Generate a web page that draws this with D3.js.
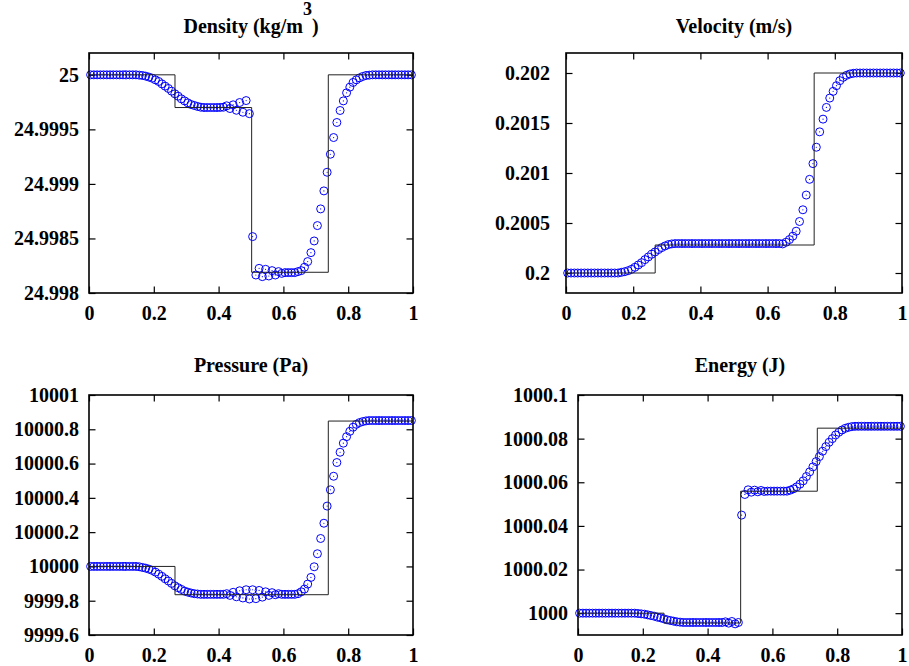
<!DOCTYPE html>
<html><head><meta charset="utf-8">
<script src="https://cdn.jsdelivr.net/npm/d3@7"></script>
<style>
body{margin:0;background:#fff}
svg text{font-family:"Liberation Serif","Times New Roman",serif;font-weight:bold;font-size:20px;fill:#000}
</style>
</head><body>
<svg id="chart" width="909" height="666"></svg>
<script>
// ---- cell-centre positions ----
const xGrid = [0.005,0.015,0.025,0.035,0.045,0.055,0.065,0.075,0.085,0.095,
0.105,0.115,0.125,0.135,0.145,0.155,0.165,0.175,0.185,0.195,
0.205,0.215,0.225,0.235,0.245,0.255,0.265,0.275,0.285,0.295,
0.305,0.315,0.325,0.335,0.345,0.355,0.365,0.375,0.385,0.395,
0.405,0.415,0.425,0.435,0.445,0.455,0.465,0.475,0.485,0.495,
0.505,0.515,0.525,0.535,0.545,0.555,0.565,0.575,0.585,0.595,
0.605,0.615,0.625,0.635,0.645,0.655,0.665,0.675,0.685,0.695,
0.705,0.715,0.725,0.735,0.745,0.755,0.765,0.775,0.785,0.795,
0.805,0.815,0.825,0.835,0.845,0.855,0.865,0.875,0.885,0.895,
0.905,0.915,0.925,0.935,0.945,0.955,0.965,0.975,0.985,0.995];

// ---- numerical solution (circles) ----
const densityValues = [25,25,25,25,25,25,25,25,25,25,
25,25,25,25,25,24.999997,24.999994,24.999988,24.999979,24.999969,
24.999954,24.999939,24.999917,24.999896,24.999875,24.99985,24.999826,24.999804,24.99978,24.999761,
24.999743,24.999728,24.999719,24.99971,24.999703,24.9997,24.9997,24.9997,24.9997,24.9997,
24.999701,24.999703,24.999716,24.999691,24.999725,24.999675,24.999746,24.999657,24.999764,24.999644,
24.998517,24.998165,24.998226,24.99815,24.998217,24.998156,24.998205,24.998165,24.998196,24.99818,
24.998187,24.998187,24.998187,24.998187,24.998196,24.998205,24.998236,24.998288,24.99837,24.998477,
24.998618,24.998771,24.998936,24.999107,24.999272,24.999425,24.999563,24.999673,24.999761,24.999835,
24.999887,24.99993,24.999954,24.999972,24.999985,24.999994,24.999997,25,25,25,
25,25,25,25,25,25,25,25,25,25];

const velocityValues = [0.2,0.2,0.2,0.2,0.2,0.2,0.2,0.2,0.2,0.2,
0.2,0.2,0.2,0.2,0.2,0.2,0.2000067,0.2000134,0.2000234,0.2000368,
0.2000569,0.2000803,0.2001037,0.2001338,0.2001606,0.2001873,0.2002107,0.2002342,0.2002542,0.2002709,
0.2002843,0.200291,0.2002944,0.2002944,0.2002944,0.2002944,0.2002944,0.2002944,0.2002944,0.2002944,
0.2002944,0.2002944,0.2002944,0.2002944,0.2002944,0.2002944,0.2002944,0.2002944,0.2002944,0.2002944,
0.2002944,0.2002944,0.2002944,0.2002944,0.2002944,0.2002944,0.2002944,0.2002944,0.2002944,0.2002944,
0.2002944,0.2002944,0.2002944,0.2002944,0.200291,0.2003077,0.2003345,0.200368,0.2004181,0.2005151,
0.2006322,0.2007794,0.2009366,0.2010938,0.2012577,0.2014116,0.2015387,0.2016558,0.2017494,0.2018163,
0.2018732,0.2019234,0.2019568,0.2019769,0.2019903,0.201997,0.202,0.202,0.202,0.202,
0.202,0.202,0.202,0.202,0.202,0.202,0.202,0.202,0.202,0.202];

const pressureValues = [10000,10000,10000,10000,10000,10000,10000,10000,10000,10000,
10000,10000,10000,10000,10000,9999.998,9999.994,9999.990,9999.984,9999.977,
9999.967,9999.955,9999.942,9999.928,9999.915,9999.901,9999.887,9999.876,9999.866,9999.856,
9999.850,9999.845,9999.841,9999.839,9999.837,9999.837,9999.837,9999.837,9999.837,9999.837,
9999.837,9999.837,9999.841,9999.831,9999.849,9999.823,9999.858,9999.816,9999.864,9999.810,
9999.864,9999.812,9999.860,9999.821,9999.852,9999.831,9999.847,9999.835,9999.841,9999.837,
9999.837,9999.837,9999.837,9999.837,9999.841,9999.852,9999.868,9999.897,9999.936,9999.998,
10000.074,10000.163,10000.252,10000.352,10000.447,10000.526,10000.606,10000.666,10000.719,10000.757,
10000.788,10000.812,10000.829,10000.839,10000.845,10000.849,10000.851,10000.851,10000.851,10000.851,
10000.851,10000.851,10000.851,10000.851,10000.851,10000.851,10000.851,10000.851,10000.851,10000.851];

const energyValues = [1000,1000,1000,1000,1000,1000,1000,1000,1000,1000,
1000,1000,1000,1000,1000,1000,1000,1000,999.99985,999.9997,
999.99954,999.99924,999.99893,999.99863,999.99817,999.99787,999.99741,999.99695,999.99665,999.99634,
999.99604,999.99589,999.99573,999.99573,999.99573,999.99573,999.99573,999.99573,999.99573,999.99573,
999.99573,999.99573,999.99573,999.99573,999.99573,999.99604,999.99543,999.99619,999.99512,999.99573,
1000.04496,1000.05441,1000.05654,1000.05547,1000.05639,1000.05563,1000.05624,1000.05578,1000.05593,1000.05593,
1000.05593,1000.05593,1000.05593,1000.05593,1000.05593,1000.05639,1000.0570,1000.05791,1000.05913,1000.06066,
1000.06264,1000.06477,1000.06706,1000.06949,1000.07178,1000.07422,1000.07635,1000.07833,1000.08001,1000.08169,
1000.08291,1000.08397,1000.08473,1000.08519,1000.0855,1000.08565,1000.08565,1000.08565,1000.08565,1000.08565,
1000.08565,1000.08565,1000.08565,1000.08565,1000.08565,1000.08565,1000.08565,1000.08565,1000.08565,1000.08565];

// ---- exact solution (step line) ----
const densityExactX = [0, 0.2654, 0.502, 0.7386, 1];
const densityExact = [25, 24.9997, 24.99819, 25, 25];
const velocityExactX = [0, 0.2654, 0.7386, 1];
const velocityExact = [0.2, 0.20028, 0.202, 0.202];
const pressureExactX = [0, 0.2654, 0.7386, 1];
const pressureExact = [10000, 9999.835, 10000.848, 10000.848];
const energyExactX = [0, 0.2654, 0.502, 0.7386, 1];
const energyExact = [1000, 999.9955, 1000.0559, 1000.0848, 1000.0848];

// ---- ticks ----
const xTicks = [0, 0.2, 0.4, 0.6, 0.8, 1];
const xTickLabels = ["0", "0.2", "0.4", "0.6", "0.8", "1"];
const densityTicks = [24.998, 24.9985, 24.999, 24.9995, 25];
const densityTickLabels = ["24.998", "24.9985", "24.999", "24.9995", "25"];
const velocityTicks = [0.2, 0.2005, 0.201, 0.2015, 0.202];
const velocityTickLabels = ["0.2", "0.2005", "0.201", "0.2015", "0.202"];
const pressureTicks = [9999.6, 9999.8, 10000, 10000.2, 10000.4, 10000.6, 10000.8, 10001];
const pressureTickLabels = ["9999.6", "9999.8", "10000", "10000.2", "10000.4", "10000.6", "10000.8", "10001"];
const energyTicks = [1000, 1000.02, 1000.04, 1000.06, 1000.08, 1000.1];
const energyTickLabels = ["1000", "1000.02", "1000.04", "1000.06", "1000.08", "1000.1"];

const svg = d3.select("#chart");

function drawPanel(p) {
  const x = d3.scaleLinear().domain([0, 1]).range([p.left, p.right]);
  const y = d3.scaleLinear().domain(p.yDomain).range([p.bottom, p.top]);
  const g = svg.append("g");
  const tick = 6.5;

  const styleAxis = sel => {
    sel.select(".domain").remove();
    sel.selectAll(".tick line").attr("stroke", "#000").attr("stroke-width", 1.2);
    sel.attr("font-family", null).attr("font-size", null);
  };
  g.append("g").attr("transform", `translate(0,${p.bottom})`)
    .call(d3.axisBottom(x).tickValues(xTicks).tickFormat((d, i) => xTickLabels[i])
      .tickSizeInner(-tick).tickSizeOuter(0).tickPadding(13))
    .call(styleAxis);
  g.append("g").attr("transform", `translate(0,${p.top})`)
    .call(d3.axisTop(x).tickValues(xTicks).tickFormat("")
      .tickSizeInner(-tick).tickSizeOuter(0))
    .call(styleAxis);
  g.append("g").attr("transform", `translate(${p.left},0)`)
    .call(d3.axisLeft(y).tickValues(p.yTicks).tickFormat((d, i) => p.yTickLabels[i])
      .tickSizeInner(-tick).tickSizeOuter(0).tickPadding(p.labelPad))
    .call(styleAxis);
  g.append("g").attr("transform", `translate(${p.right},0)`)
    .call(d3.axisRight(y).tickValues(p.yTicks).tickFormat("")
      .tickSizeInner(-tick).tickSizeOuter(0))
    .call(styleAxis);

  // circles
  const pts = g.append("g");
  xGrid.forEach((xv, i) => {
    pts.append("circle").attr("cx", x(xv)).attr("cy", y(p.values[i])).attr("r", 4)
      .attr("fill", "none").attr("stroke", "#0000ff").attr("stroke-width", 1);
    pts.append("circle").attr("cx", x(xv)).attr("cy", y(p.values[i])).attr("r", 0.6)
      .attr("fill", "#0000ff");
  });

  // exact step line
  const line = d3.line().x(d => x(d[0])).y(d => y(d[1])).curve(d3.curveStepAfter);
  g.append("path").datum(p.exactX.map((xv, i) => [xv, p.exact[i]]))
    .attr("d", line).attr("fill", "none").attr("stroke", "#222").attr("stroke-width", 1);

  // frame
  g.append("rect").attr("x", p.left).attr("y", p.top)
    .attr("width", p.right - p.left).attr("height", p.bottom - p.top)
    .attr("fill", "none").attr("stroke", "#000").attr("stroke-width", 1.6);

  // title
  const t = g.append("text").attr("x", (p.left + p.right) / 2).attr("y", p.titleY)
    .attr("text-anchor", "middle");
  t.append("tspan").text(p.title);
  if (p.sup) {
    t.append("tspan").attr("dy", -18).attr("font-size", "18px").text(p.sup);
    t.append("tspan").attr("dy", 18).text(p.after);
  }
}

drawPanel({left: 89, right: 413, top: 53, bottom: 293, yDomain: [24.998, 25.0002],
  yTicks: densityTicks, yTickLabels: densityTickLabels, values: densityValues,
  exactX: densityExactX, exact: densityExact, labelPad: 10, titleY: 33,
  title: "Density (kg/m", sup: "3", after: ")"});
drawPanel({left: 566, right: 902, top: 53, bottom: 293, yDomain: [0.1998, 0.2022],
  yTicks: velocityTicks, yTickLabels: velocityTickLabels, values: velocityValues,
  exactX: velocityExactX, exact: velocityExact, labelPad: 16, titleY: 33,
  title: "Velocity (m/s)"});
drawPanel({left: 89, right: 413, top: 395, bottom: 635, yDomain: [9999.6, 10001],
  yTicks: pressureTicks, yTickLabels: pressureTickLabels, values: pressureValues,
  exactX: pressureExactX, exact: pressureExact, labelPad: 10, titleY: 372,
  title: "Pressure (Pa)"});
drawPanel({left: 578, right: 902, top: 395, bottom: 635, yDomain: [999.99, 1000.1],
  yTicks: energyTicks, yTickLabels: energyTickLabels, values: energyValues,
  exactX: energyExactX, exact: energyExact, labelPad: 10, titleY: 372,
  title: "Energy (J)"});
</script>
</body></html>
